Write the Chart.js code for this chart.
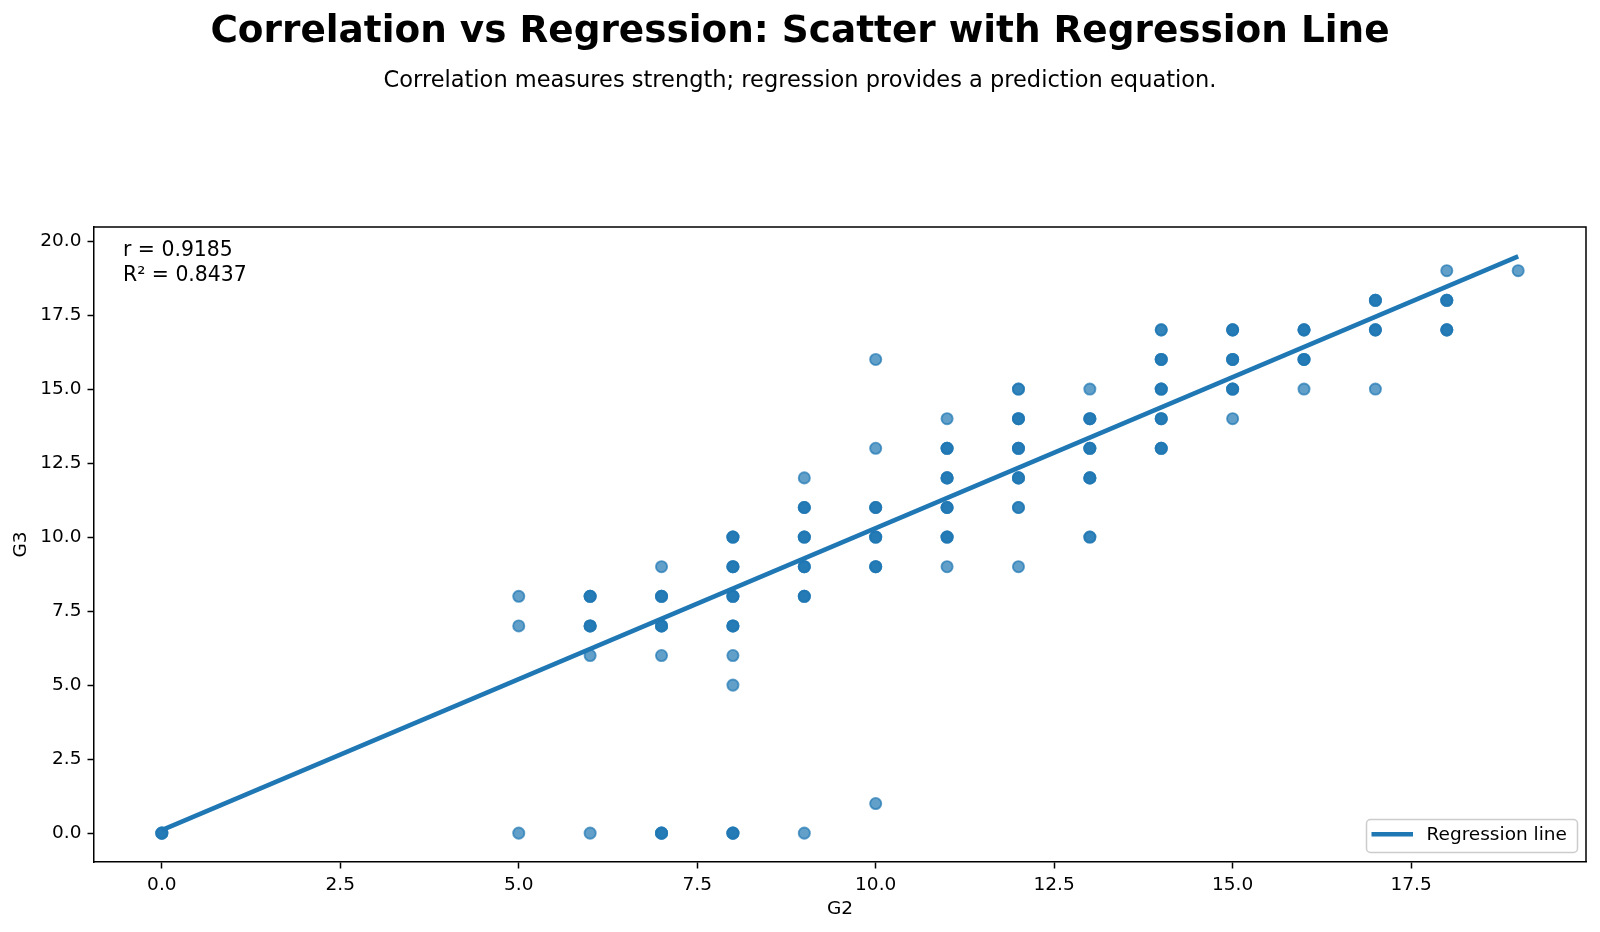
<!DOCTYPE html>
<html>
<head>
<meta charset="utf-8">
<script src="https://cdn.jsdelivr.net/npm/chart.js@4/dist/chart.umd.min.js"></script>
<style>
  html, body { margin: 0; padding: 0; background: #fff; }
  #wrap { width: 1600px; height: 932px; position: relative; }
</style>
</head>
<body>
<div id="wrap"><canvas id="chart"></canvas></div>
<script>
// Data (G2 vs G3), count = how many students share a point
const g2 = [0,
  5, 5, 5,
  6, 6, 6, 6,
  7, 7, 7, 7, 7,
  8, 8, 8, 8, 8, 8, 8,
  9, 9, 9, 9, 9, 9,
  10, 10, 10, 10, 10, 10,
  11, 11, 11, 11, 11, 11,
  12, 12, 12, 12, 12, 12,
  13, 13, 13, 13, 13,
  14, 14, 14, 14, 14,
  15, 15, 15, 15,
  16, 16, 16,
  17, 17, 17,
  18, 18, 18,
  19];
const g3 = [0,
  8, 7, 0,
  8, 7, 6, 0,
  9, 8, 7, 6, 0,
  10, 9, 8, 7, 6, 5, 0,
  12, 11, 10, 9, 8, 0,
  16, 13, 11, 10, 9, 1,
  14, 13, 12, 11, 10, 9,
  15, 14, 13, 12, 11, 9,
  15, 14, 13, 12, 10,
  17, 16, 15, 14, 13,
  17, 16, 15, 14,
  17, 16, 15,
  18, 17, 15,
  19, 18, 17,
  19];
const counts = [3,
  1, 1, 1,
  3, 3, 1, 1,
  1, 3, 3, 1, 3,
  3, 3, 3, 3, 1, 1, 3,
  1, 3, 3, 3, 3, 1,
  1, 1, 3, 3, 3, 1,
  1, 3, 3, 3, 3, 1,
  2, 3, 3, 3, 2, 1,
  1, 3, 3, 3, 2,
  2, 3, 3, 3, 3,
  3, 3, 3, 1,
  3, 3, 1,
  3, 3, 1,
  1, 3, 3,
  1];

// Regression line endpoints
const lineX = [0, 19];
const lineY = [0.1, 19.48];

const statLines = ['r = 0.9185', 'R\u00b2 = 0.8437'];
const xTicks = [0, 2.5, 5, 7.5, 10, 12.5, 15, 17.5];
const yTicks = [0, 2.5, 5, 7.5, 10, 12.5, 15, 17.5, 20];

const FONT = "'DejaVu Sans', sans-serif";
const BLUE = '#1f77b4';
const BLUE_A = 'rgba(31,119,180,0.7)';

// expand duplicates so the overlaps get darker like in the original
const scatterPts = [];
g2.forEach((x, i) => {
    for (let k = 0; k < counts[i]; k++) scatterPts.push({ x: x, y: g3[i] });
});
const linePts = lineX.map((x, i) => ({ x: x, y: lineY[i] }));

// --- titles, frame, stats text and legend ---
const decorPlugin = {
    id: 'decor',
    afterDraw(chart) {
        const ctx = chart.ctx;
        const a = chart.chartArea;
        ctx.save();

        // top / right spines
        ctx.strokeStyle = '#000';
        ctx.lineWidth = 1.5;
        ctx.beginPath();
        ctx.moveTo(a.left, a.top);
        ctx.lineTo(a.right, a.top);
        ctx.lineTo(a.right, a.bottom);
        ctx.stroke();

        // figure title + subtitle
        ctx.fillStyle = '#000';
        ctx.textAlign = 'center';
        ctx.textBaseline = 'alphabetic';
        ctx.font = 'bold 37.4px ' + FONT;
        ctx.fillText('Correlation vs Regression: Scatter with Regression Line', 800, 41.5);
        ctx.font = '22.5px ' + FONT;
        ctx.fillText('Correlation measures strength; regression provides a prediction equation.', 800, 87);

        // r / R² text
        ctx.textAlign = 'left';
        ctx.font = '20.4px ' + FONT;
        ctx.fillText(statLines[0], a.left + 29, a.top + 29);
        ctx.fillText(statLines[1], a.left + 29, a.top + 53.5);

        // legend (lower right)
        const w = 211, h = 33;
        const bx = a.right - 8.5 - w, by = a.bottom - 9.5 - h;
        ctx.fillStyle = 'rgba(255,255,255,0.8)';
        ctx.strokeStyle = '#cccccc';
        ctx.lineWidth = 1.5;
        ctx.beginPath();
        ctx.roundRect(bx, by, w, h, 4);
        ctx.fill();
        ctx.stroke();
        ctx.strokeStyle = BLUE;
        ctx.lineWidth = 4.6;
        ctx.beginPath();
        ctx.moveTo(bx + 5, by + 14.7);
        ctx.lineTo(bx + 46.5, by + 14.7);
        ctx.stroke();
        ctx.fillStyle = '#000';
        ctx.font = '18.5px ' + FONT;
        ctx.textBaseline = 'middle';
        ctx.fillText(chart.data.datasets[0].label, bx + 60, by + 16);

        ctx.restore();
    }
};

const axisCommon = {
    type: 'linear',
    grid: {
        drawOnChartArea: false,
        drawTicks: true,
        tickLength: 6.5,
        tickWidth: 1.5,
        tickColor: '#000'
    },
    border: { display: true, color: '#000', width: 1.5 },
    ticks: {
        color: '#000',
        font: { family: FONT, size: 18.5 },
        padding: 6,
        callback: v => Number(v).toFixed(1)
    }
};

new Chart(document.getElementById('chart'), {
    type: 'scatter',
    data: {
        datasets: [
            {
                type: 'line',
                label: 'Regression line',
                data: linePts,
                borderColor: BLUE,
                borderWidth: 4.6,
                pointRadius: 0,
                fill: false,
                order: 0
            },
            {
                type: 'scatter',
                label: 'Students',
                data: scatterPts,
                backgroundColor: BLUE_A,
                borderColor: BLUE_A,
                borderWidth: 1.85,
                pointRadius: 5.6,
                order: 1
            }
        ]
    },
    plugins: [decorPlugin],
    options: {
        responsive: true,
        maintainAspectRatio: false,
        devicePixelRatio: 1,
        animation: false,
        layout: { padding: { top: 227, right: 14, left: 0, bottom: 0 } },
        plugins: {
            legend: { display: false },
            tooltip: { enabled: false },
            title: { display: false }
        },
        scales: {
            x: {
                ...axisCommon,
                position: 'bottom',
                min: -0.95,
                max: 19.95,
                afterBuildTicks: s => { s.ticks = xTicks.map(v => ({ value: v })); },
                afterFit: s => { s.height = 70; },
                title: {
                    display: true,
                    text: 'G2',
                    color: '#000',
                    font: { family: FONT, size: 18.5 },
                    padding: { top: 0, bottom: 12 }
                }
            },
            y: {
                ...axisCommon,
                position: 'left',
                min: -0.975,
                max: 20.475,
                afterBuildTicks: s => { s.ticks = yTicks.map(v => ({ value: v })); },
                afterFit: s => { s.width = 94; },
                title: {
                    display: true,
                    text: 'G3',
                    color: '#000',
                    font: { family: FONT, size: 18.5 },
                    padding: { top: 10, bottom: 0 }
                }
            }
        }
    }
});
</script>
</body>
</html>
